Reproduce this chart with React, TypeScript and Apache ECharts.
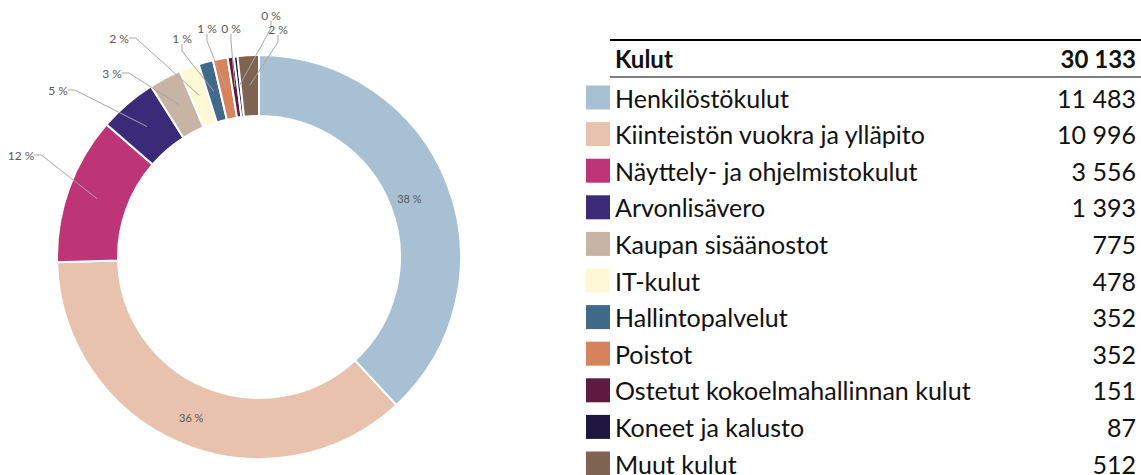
import React, { useEffect, useRef } from "react";
import * as echarts from "echarts";

const categories = [
  "Henkilöstökulut",
  "Kiinteistön vuokra ja ylläpito",
  "Näyttely- ja ohjelmistokulut",
  "Arvonlisävero",
  "Kaupan sisäänostot",
  "IT-kulut",
  "Hallintopalvelut",
  "Poistot",
  "Ostetut kokoelmahallinnan kulut",
  "Koneet ja kalusto",
  "Muut kulut",
];
const values = [11483, 10996, 3556, 1393, 775, 478, 352, 352, 151, 87, 512];
const percentLabels = [38, 36, 12, 5, 3, 2, 1, 1, 0, 0, 2];
const colors = [
  "#a8c0d3",
  "#e8c2ad",
  "#bd3577",
  "#3a2a78",
  "#c8b4a5",
  "#fff8d6",
  "#41698a",
  "#d7845e",
  "#5e1a40",
  "#1f1740",
  "#7f6351",
];
const headerLabel = "Kulut";
const headerTotal = 30133;
// which slice labels sit inside the ring, and on which helper ring
const ringInsideIdx = [1];
const innerInsideIdx = [0];

// layout: centre of each outside percentage label (px)
const outsideLabelPos: Record<number, [number, number]> = {
  2: [21, 155],
  3: [58, 90],
  4: [112, 73],
  5: [119, 38],
  6: [182, 38],
  7: [207, 28],
  8: [231, 28],
  9: [271, 15],
  10: [278, 29],
};

const FONT = "Lato, 'Noto Sans', sans-serif";
const fmt = (n: number) => String(n).replace(/\B(?=(\d{3})+(?!\d))/g, " ");

export default function App() {
  const ref = useRef<HTMLDivElement>(null);
  useEffect(() => {
    if (!ref.current) return;
    const chart = echarts.init(ref.current, undefined, { renderer: "svg" });
    const ringData = categories.map((name, i) => ({
      name,
      value: values[i],
      itemStyle: { color: colors[i] },
      label: { show: ringInsideIdx.includes(i) },
    }));
    const labelData = categories.map((name, i) => {
      const inner = innerInsideIdx.includes(i);
      const hidden = ringInsideIdx.includes(i);
      return {
        name,
        value: values[i],
        label: { show: !hidden, position: inner ? "inside" : "outside", fontSize: inner ? 11 : 12 },
        labelLine: { show: !hidden && !inner },
      };
    });
    chart.setOption({
      animation: false,
      backgroundColor: "#ffffff",
      legend: {
        orient: "vertical",
        left: 586,
        top: 85,
        height: 440,
        padding: 0,
        itemWidth: 24,
        itemHeight: 24,
        itemGap: 11.6,
        icon: "rect",
        selectedMode: false,
        data: categories,
        itemStyle: { borderWidth: 0 },
        formatter: (name: string) => {
          const i = categories.indexOf(name);
          return `{n|${name}}{v|${fmt(values[i])}}`;
        },
        textStyle: {
          rich: {
            n: { width: 400, fontSize: 25, lineHeight: 24, fontFamily: FONT, color: "#111" },
            v: { width: 121, align: "right", fontSize: 25, lineHeight: 24, fontFamily: FONT, color: "#111" },
          },
        },
      },
      graphic: [
        { type: "line", shape: { x1: 610, y1: 40, x2: 1141, y2: 40 }, style: { stroke: "#000", lineWidth: 2 } },
        { type: "line", shape: { x1: 610, y1: 77, x2: 1141, y2: 77 }, style: { stroke: "#000", lineWidth: 1 } },
        {
          type: "text",
          x: 615,
          y: 58,
          style: { text: headerLabel, font: `bold 24px ${FONT}`, fill: "#111", verticalAlign: "middle" },
        },
        {
          type: "text",
          x: 1136,
          y: 58,
          style: { text: fmt(headerTotal), font: `bold 24px ${FONT}`, fill: "#111", verticalAlign: "middle", align: "right" },
        },
      ],
      series: [
        {
          type: "pie",
          silent: true,
          center: [259, 257],
          radius: [141, 202],
          startAngle: 90,
          avoidLabelOverlap: false,
          itemStyle: { borderColor: "#ffffff", borderWidth: 2 },
          label: {
            show: false,
            position: "inside",
            fontFamily: FONT,
            fontSize: 11,
            color: "#595959",
            formatter: (p: any) => `${percentLabels[p.dataIndex]} %`,
          },
          labelLine: { show: false },
          data: ringData,
          z: 2,
        },
        {
          type: "pie",
          silent: true,
          center: [259, 257],
          radius: [145, 172],
          startAngle: 90,
          avoidLabelOverlap: false,
          itemStyle: { color: "rgba(255,255,255,0)", borderWidth: 0 },
          label: {
            show: true,
            position: "outside",
            fontFamily: FONT,
            fontSize: 12,
            color: "#595959",
            formatter: (p: any) => `${percentLabels[p.dataIndex]} %`,
          },
          labelLine: { show: true, length: 10, length2: 7, lineStyle: { color: "#a6a6a6", width: 1 } },
          labelLayout: (params: any) => {
            const p = outsideLabelPos[params.dataIndex];
            if (!p) return {};
            return { x: p[0], y: p[1], align: "center", verticalAlign: "middle" };
          },
          data: labelData,
          z: 3,
        },
      ],
    });
    return () => chart.dispose();
  }, []);
  return (
    <div
      ref={ref}
      style={{ position: "absolute", left: 0, top: 0, width: 1141, height: 475 }}
    />
  );
}
